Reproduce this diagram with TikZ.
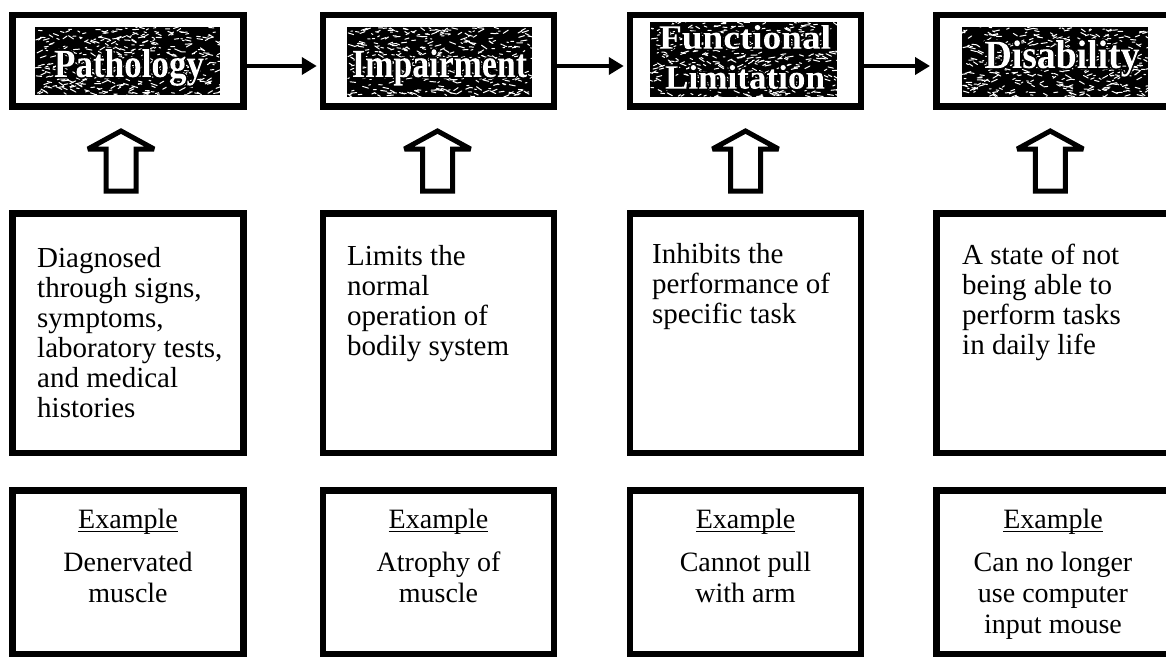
\documentclass[tikz,border=0pt]{standalone}
\usepackage{fontspec}
\usepackage{graphicx}
\setmainfont{Liberation Serif}
\newfontfamily\titlefont{Liberation Serif}
\usetikzlibrary{arrows.meta,calc}

% white letters with a black outline: stroke the glyphs and clip to them, then fill white inside
\newcommand\outl[1]{\special{pdf:literal direct q 0 G 5 Tr 3.2 w 1 j}#1\special{pdf:content 1 g -600 -100 1200 200 re f}\special{pdf:literal direct Q}}
\newcommand\ttl[2]{\resizebox{#1pt}{\height}{\outl{#2}}}
\newcommand\myul[1]{{\setbox0\hbox{#1}\rlap{\rule[-3.5pt]{\wd0}{1.6pt}}\box0}}
\newcommand\speckbox[4]{%
 \fill[black] (#1,#2) rectangle (#3,#4);
 \begin{scope}
 \clip (#1,#2) rectangle (#3,#4);
 \foreach \k in {1,...,420}{
   \pgfmathsetmacro\px{#1+(#3-#1)*rnd}
   \pgfmathsetmacro\py{#2+(#4-#2)*rnd}
   \pgfmathsetmacro\ang{rand*35}
   \pgfmathsetmacro\len{1.5+5*rnd}
   \draw[white,line width=1pt,line cap=round] (\px,\py) -- ++(\ang:\len);
 }
 \end{scope}}
\newcommand\hollowup[2]{%
 \draw[hollow] ($(#1.north)+(#2,-79)$) -- ++(33,18) -- ++(-18,0) -- ++(0,42)
   -- ++(-30,0) -- ++(0,-42) -- ++(-18,0) -- cycle;}

\tikzset{
 x=1pt,y=-1pt,
 box/.style={draw, line width=6.5pt, minimum width=231pt, inner sep=0pt},
 topbox/.style={box, minimum height=91.5pt},
 midbox/.style={box, minimum height=239.5pt},
 exbox/.style={box, minimum height=163.5pt},
 wide/.style={minimum width=240pt},
 flow/.style={line width=4pt, -{Triangle[length=15pt,width=17pt]}, shorten >=3pt},
 hollow/.style={draw, line width=5pt, line join=miter, miter limit=2, fill=white},
 body/.style={font=\fontsize{29}{30}\selectfont, align=left, inner sep=0pt, anchor=north west},
 extext/.style={font=\fontsize{28}{31}\selectfont, align=center, inner sep=0pt, anchor=north},
 title/.style={font=\titlefont\bfseries\fontsize{40}{40}\selectfont, inner sep=0pt, anchor=base}
}

\begin{document}
\begin{tikzpicture}
\useasboundingbox (0,0) rectangle (1166,658);
\fill[white] (0,0) rectangle (1166,658);

% top boxes
\node[topbox] (t1) at (128,61) {};
\node[topbox] (t2) at (438.5,61) {};
\node[topbox] (t3) at (745.5,61) {};
\node[topbox, wide] (t4) at (1056.25,61) {};

% textured title panels
\pgfmathsetseed{7}
\speckbox{35}{27}{220}{95}
\speckbox{347}{27}{532}{97}
\speckbox{650}{22}{837}{97}
\speckbox{962}{27}{1148}{97}

\node[title] (tt1) at (129,77) {\ttl{150}{Pathology}};
\node[title] (tt2) at (439.5,77) {\ttl{175}{Impairment}};
\node[title, anchor=center, align=center, font=\titlefont\bfseries\fontsize{34}{40}\selectfont] (tt3) at (745,57) {\ttl{172}{Functional}\\\ttl{160}{Limitation}};
\node[title] (tt4) at (1062,68) {\ttl{155}{Disability}};

% flow arrows
\draw[flow] ([yshift=-5pt]t1.east) -- ([yshift=-5pt]t2.west);
\draw[flow] ([yshift=-5pt]t2.east) -- ([yshift=-5pt]t3.west);
\draw[flow] ([yshift=-5pt]t3.east) -- ([yshift=-5pt]t4.west);

% description boxes
\node[midbox] (m1) at (128,333) {};
\node[midbox] (m2) at (438.5,333) {};
\node[midbox] (m3) at (745.5,333) {};
\node[midbox, wide] (m4) at (1056.25,333) {};

\node[body] (b1) at (37,247) {Diagnosed\\through signs,\\symptoms,\\laboratory tests,\\and medical\\histories};
\node[body] (b2) at (347,245) {Limits the\\normal\\operation of\\bodily system};
\node[body] (b3) at (652,243) {Inhibits the\\performance of\\specific task};
\node[body] (b4) at (962,244) {A state of not\\being able to\\perform tasks\\in daily life};

% hollow up arrows
\hollowup{m1}{-7}
\hollowup{m2}{-1}
\hollowup{m3}{0}
\hollowup{m4}{-6}

% example boxes
\node[exbox] (e1) at (128,572) {};
\node[exbox] (e2) at (438.5,572) {};
\node[exbox] (e3) at (745.5,572) {};
\node[exbox, wide] (e4) at (1056.25,572) {};

\node[extext] (x1) at (128,509) {\myul{Example}\\[12pt]Denervated\\muscle};
\node[extext] (x2) at (438.5,509) {\myul{Example}\\[12pt]Atrophy of\\muscle};
\node[extext] (x3) at (745.5,509) {\myul{Example}\\[12pt]Cannot pull\\with arm};
\node[extext] (x4) at (1053,509) {\myul{Example}\\[12pt]Can no longer\\use computer\\input mouse};
\end{tikzpicture}
\end{document}
